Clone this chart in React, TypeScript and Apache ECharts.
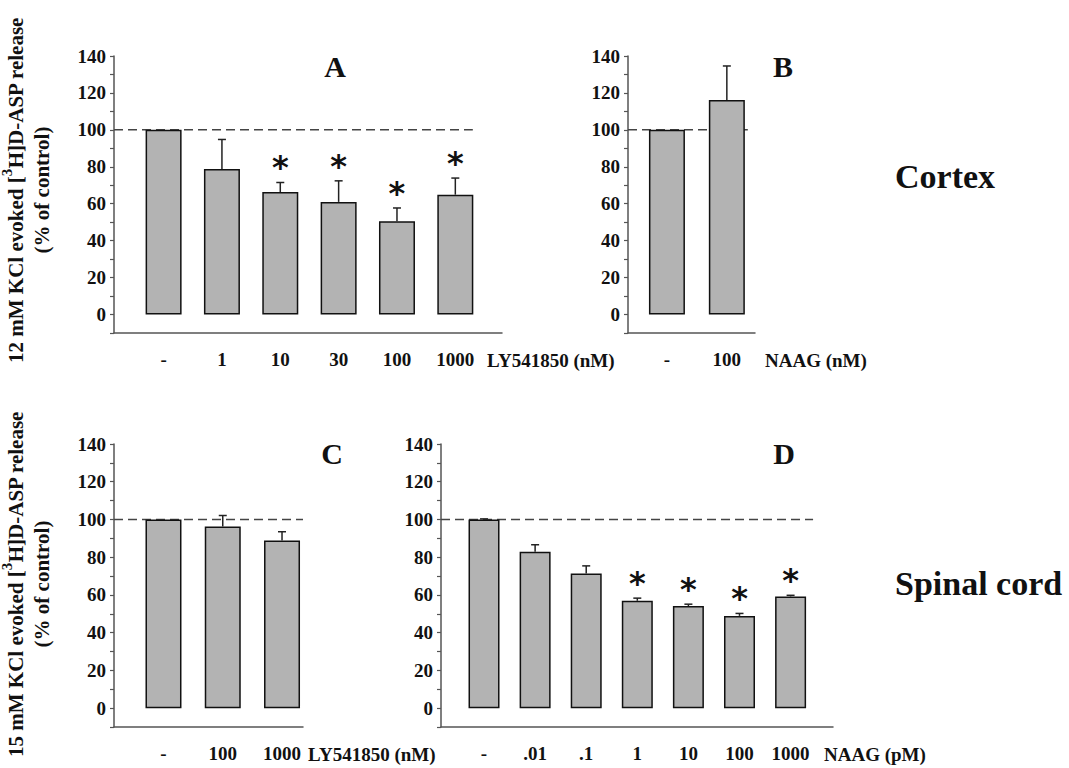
import React, { useEffect, useRef } from 'react';
import * as echarts from 'echarts';

const FONT = '"Liberation Serif", "Times New Roman", serif';

// Panel A – Cortex, 12 mM KCl, LY541850 (nM)
const catsA = ['-', '1', '10', '30', '100', '1000'];
const valsA = [100, 78.8, 66.3, 61.0, 50.5, 64.9];
const semA = [0, 16.0, 5.2, 11.4, 7.2, 9.0];
const sigA = [false, false, true, true, true, true];

// Panel B – Cortex, NAAG (nM)
const catsB = ['-', '100'];
const valsB = [100, 116.2];
const semB = [0, 18.4];
const sigB = [false, false];

// Panel C – Spinal cord, 15 mM KCl, LY541850 (nM)
const catsC = ['-', '100', '1000'];
const valsC = [100, 96.3, 88.9];
const semC = [0, 5.8, 4.6];
const sigC = [false, false, false];

// Panel D – Spinal cord, NAAG (pM)
const catsD = ['-', '.01', '.1', '1', '10', '100', '1000'];
const valsD = [100, 82.9, 71.4, 56.9, 54.1, 48.9, 59.2];
const semD = [0.3, 3.7, 4.0, 1.4, 1.0, 1.3, 0.6];
const sigD = [false, false, false, true, true, true, true];

const yTicks = [0, 20, 40, 60, 80, 100, 120, 140];
const controlLevel = 100;

const panels = [
  { cats: catsA, vals: valsA, sem: semA, sig: sigA, name: 'LY541850 (nM)', letter: 'A' },
  { cats: catsB, vals: valsB, sem: semB, sig: sigB, name: 'NAAG (nM)', letter: 'B' },
  { cats: catsC, vals: valsC, sem: semC, sig: sigC, name: 'LY541850 (nM)', letter: 'C' },
  { cats: catsD, vals: valsD, sem: semD, sig: sigD, name: 'NAAG (pM)', letter: 'D' },
];

const layouts = [
  { left: 114, top: 56, width: 388, height: 277, xMin: -0.85, xMax: 5.8, barWidth: 36, refEnd: 5.3, nameGap: -15, lx: 335, ly: 66 },
  { left: 628, top: 56, width: 127, height: 277, xMin: -0.65, xMax: 1.47, barWidth: 36, refEnd: 1.35, nameGap: 10, lx: 783, ly: 66 },
  { left: 114, top: 444, width: 189, height: 283, xMin: -0.835, xMax: 2.354, barWidth: 36, refEnd: 2.354, nameGap: 5, lx: 332, ly: 453 },
  { left: 441, top: 444, width: 392, height: 283, xMin: -0.842, xMax: 6.83, barWidth: 31, refEnd: 6.44, nameGap: -9, lx: 784, ly: 453 },
];

const AXIS_COLOR = '#555';
const INK = '#111';

export default function App() {
  const ref = useRef<HTMLDivElement>(null);
  useEffect(() => {
    if (!ref.current) return;
    const chart = echarts.init(ref.current, null, { renderer: 'svg' });

    const grid = layouts.map((l) => ({
      left: l.left, top: l.top, width: l.width, height: l.height, containLabel: false,
    }));

    const xAxis = panels.map((p, i) => {
      const l = layouts[i];
      return {
        gridIndex: i,
        type: 'value',
        min: l.xMin,
        max: l.xMax,
        splitLine: { show: false },
        axisTick: { show: false },
        axisLine: { show: true, onZero: false, lineStyle: { color: AXIS_COLOR, width: 1.5 } },
        axisLabel: {
          customValues: p.cats.map((_, k) => k),
          formatter: (v: number) => p.cats[Math.round(v)] ?? '',
          fontFamily: FONT, fontWeight: 'bold', fontSize: 19, color: INK, margin: 17,
        },
      };
    });

    const yAxis = panels.map((_, i) => ({
      gridIndex: i,
      type: 'value',
      min: -10,
      max: 140,
      interval: 10,
      splitLine: { show: false },
      axisLine: { show: true, onZero: false, lineStyle: { color: AXIS_COLOR, width: 1.5 } },
      axisTick: { show: true, length: 4, lineStyle: { color: AXIS_COLOR, width: 1.2 } },
      axisLabel: {
        formatter: (v: number) => (yTicks.includes(v) ? String(v) : ''),
        fontFamily: FONT, fontWeight: 'bold', fontSize: 19, color: INK, margin: 8,
      },
    }));

    const series: any[] = [];
    panels.forEach((p, i) => {
      const l = layouts[i];
      series.push({
        type: 'line', xAxisIndex: i, yAxisIndex: i, silent: true,
        data: [[l.xMin, controlLevel], [l.refEnd, controlLevel]],
        symbol: 'none', z: 1,
        lineStyle: { type: [9, 5], color: '#444', width: 1.5 },
      });
      series.push({
        type: 'bar', xAxisIndex: i, yAxisIndex: i, barWidth: l.barWidth, z: 2,
        data: p.vals.map((v, k) => [k, v]),
        itemStyle: { color: '#b3b3b3', borderColor: INK, borderWidth: 1.5 },
      });
      series.push({
        type: 'custom', xAxisIndex: i, yAxisIndex: i, z: 3,
        encode: { x: 0, y: 1 },
        data: p.vals.map((v, k) => [k, v, p.sem[k]]),
        renderItem: (params: any, api: any) => {
          const x = api.value(0), top = api.value(1), e = api.value(2);
          if (!e) return null;
          const a = api.coord([x, top]);
          const b = api.coord([x, top + e]);
          const st = { stroke: '#222', lineWidth: 1.5 };
          return {
            type: 'group',
            children: [
              { type: 'line', shape: { x1: a[0], y1: a[1], x2: b[0], y2: b[1] }, style: st },
              { type: 'line', shape: { x1: b[0] - 4, y1: b[1], x2: b[0] + 4, y2: b[1] }, style: st },
            ],
          };
        },
      });
      const stars = p.vals
        .map((v, k) => (p.sig[k] ? [k, v + p.sem[k]] : null))
        .filter((d) => d !== null);
      if (stars.length) {
        series.push({
          type: 'custom', xAxisIndex: i, yAxisIndex: i, z: 4,
          encode: { x: 0, y: 1 },
          data: stars,
          renderItem: (params: any, api: any) => {
            const c = api.coord([api.value(0), api.value(1)]);
            return {
              type: 'text',
              x: c[0],
              y: c[1] - 15,
              style: {
                text: '*', align: 'center', verticalAlign: 'middle',
                font: 'bold 32px "DejaVu Sans"', fill: INK,
              },
            };
          },
        });
      }
    });

    const graphic: any[] = [];
    panels.forEach((p, i) => {
      const l = layouts[i];
      graphic.push({
        type: 'text', x: l.lx, y: l.ly,
        style: { text: p.letter, align: 'center', verticalAlign: 'middle', font: `bold 30px ${FONT}`, fill: INK },
      });
      // x-axis title, on the tick-label row after the axis end
      graphic.push({
        type: 'text', x: l.left + l.width + l.nameGap, y: l.top + l.height + 27,
        style: { text: p.name, align: 'left', verticalAlign: 'middle', font: `bold 19px ${FONT}`, fill: INK },
      });
    });
    graphic.push({
      type: 'text', x: 895, y: 176,
      style: { text: 'Cortex', align: 'left', verticalAlign: 'middle', font: `bold 34px ${FONT}`, fill: INK },
    });
    graphic.push({
      type: 'text', x: 895, y: 583,
      style: { text: 'Spinal cord', align: 'left', verticalAlign: 'middle', font: `bold 34px ${FONT}`, fill: INK },
    });
    const rich = {
      m: { fontFamily: FONT, fontWeight: 'bold', fontSize: 21, lineHeight: 21, verticalAlign: 'bottom', fill: INK },
      sup: { fontFamily: FONT, fontWeight: 'bold', fontSize: 15, lineHeight: 15, verticalAlign: 'bottom', padding: [0, 0, 12, 0], fill: INK },
    };
    const yTitles = [
      { kcl: '12', cy: 190 },
      { kcl: '15', cy: 584 },
    ];
    yTitles.forEach((t) => {
      graphic.push({
        type: 'text', x: 16, y: t.cy, rotation: Math.PI / 2,
        style: {
          text: `{m|${t.kcl} mM KCl evoked [}{sup|3}{m|H]D-ASP release}`,
          rich, align: 'center', verticalAlign: 'middle', fill: INK,
        },
      });
      graphic.push({
        type: 'text', x: 42, y: t.cy, rotation: Math.PI / 2,
        style: {
          text: '(% of control)', align: 'center', verticalAlign: 'middle',
          font: `bold 21px ${FONT}`, fill: INK,
        },
      });
    });

    chart.setOption({
      animation: false,
      backgroundColor: '#ffffff',
      grid, xAxis, yAxis, series, graphic,
    });
    return () => chart.dispose();
  }, []);

  return (
    <div
      ref={ref}
      style={{ position: 'absolute', left: 0, top: 0, width: 1069, height: 768 }}
    />
  );
}
